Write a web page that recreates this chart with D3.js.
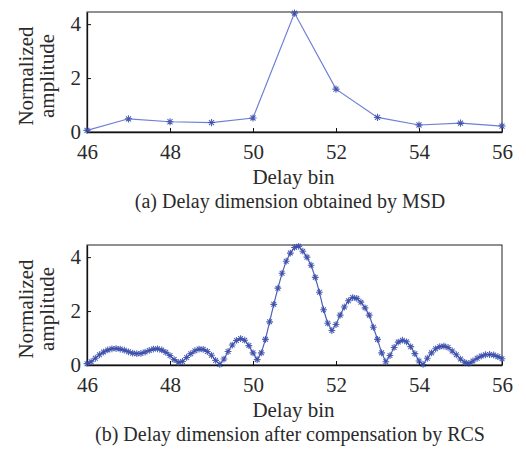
<!DOCTYPE html>
<html><head><meta charset="utf-8">
<script src="https://cdn.jsdelivr.net/npm/d3@7"></script>
<style>body{margin:0;background:#fff}svg{display:block}
svg text{font-family:"Liberation Serif","DejaVu Serif","Times New Roman",serif;}</style>
</head><body><svg id="c" width="526" height="449"></svg>
<script>
const xTicks = [46, 48, 50, 52, 54, 56];
const yTicks = [0, 2, 4];
const msdBins = [46, 47, 48, 49, 50, 51, 52, 53, 54, 55, 56];
const msdValues = [0.06, 0.49, 0.38, 0.35, 0.52, 4.41, 1.59, 0.54, 0.26, 0.33, 0.22];
const rcsBins = [46.0,46.1,46.2,46.3,46.4,46.5,46.6,46.7,46.8,46.9,
 47.0,47.1,47.2,47.3,47.4,47.5,47.6,47.7,47.8,47.9,
 48.0,48.1,48.2,48.3,48.4,48.5,48.6,48.7,48.8,48.9,
 49.0,49.1,49.2,49.3,49.4,49.5,49.6,49.7,49.8,49.9,
 50.0,50.1,50.2,50.3,50.4,50.5,50.6,50.7,50.8,50.9,
 51.0,51.1,51.2,51.3,51.4,51.5,51.6,51.7,51.8,51.9,
 52.0,52.1,52.2,52.3,52.4,52.5,52.6,52.7,52.8,52.9,
 53.0,53.1,53.2,53.3,53.4,53.5,53.6,53.7,53.8,53.9,
 54.0,54.1,54.2,54.3,54.4,54.5,54.6,54.7,54.8,54.9,
 55.0,55.1,55.2,55.3,55.4,55.5,55.6,55.7,55.8,55.9,56.0];
const rcsValues = [0.05,0.12,0.25,0.38,0.48,0.56,0.60,0.61,0.59,0.55,
 0.49,0.44,0.42,0.43,0.48,0.54,0.59,0.60,0.56,0.47,
 0.35,0.20,0.10,0.13,0.28,0.42,0.53,0.59,0.58,0.50,
 0.36,0.17,0.02,0.22,0.50,0.74,0.91,0.98,0.92,0.72,
 0.45,0.20,0.45,0.95,1.60,2.25,2.85,3.40,3.85,4.15,
 4.36,4.40,4.22,4.00,3.70,3.25,2.70,2.05,1.55,1.28,
 1.50,1.85,2.15,2.38,2.50,2.47,2.33,2.12,1.85,1.40,
 0.95,0.45,0.12,0.35,0.65,0.85,0.92,0.86,0.68,0.42,
 0.15,0.02,0.25,0.45,0.60,0.68,0.70,0.65,0.52,0.38,
 0.22,0.10,0.06,0.15,0.25,0.33,0.38,0.39,0.37,0.31,0.23];
const captions = ["(a) Delay dimension obtained by MSD", "(b) Delay dimension after compensation by RCS"];

const svg = d3.select("#c");
const TXT = "#2a2a2a";
const LINE = "#6e7fd4";
const MARK = "#3448a8";

function panel(top, bins, vals, caption, msize, lineColor) {
  const L = 87, R = 502, T = top, B = top + 120;
  const x = d3.scaleLinear().domain([46, 56]).range([L, R]);
  const y = d3.scaleLinear().domain([0, 4.45]).range([B, T]);
  const g = svg.append("g");
  g.append("rect").attr("x", L).attr("y", T).attr("width", R - L).attr("height", B - T)
    .attr("fill", "none").attr("stroke", "#222").attr("stroke-width", 1);
  const xa = g.append("g").attr("transform", `translate(0,${B})`)
    .call(d3.axisBottom(x).tickValues(xTicks).tickFormat(d3.format("d")).tickSizeInner(-4).tickSizeOuter(0).tickPadding(12));
  const ya = g.append("g").attr("transform", `translate(${L},0)`)
    .call(d3.axisLeft(y).tickValues(yTicks).tickFormat(d3.format("d")).tickSizeInner(-4).tickSizeOuter(0).tickPadding(6));
  [xa, ya].forEach(a => {
    a.select(".domain").attr("stroke", "#111").attr("stroke-width", 1.3);
    a.selectAll(".tick line").attr("stroke", "#111");
    a.selectAll("text").attr("font-family", null).attr("font-size", 21).attr("fill", TXT);
  });
  xa.selectAll("text").attr("dy", "0.71em");
  ya.selectAll("text").attr("dy", "0.3em");
  const pts = bins.map((b, i) => [b, vals[i]]);
  g.append("path").datum(pts)
    .attr("d", d3.line().x(d => x(d[0])).y(d => y(d[1])))
    .attr("fill", "none").attr("stroke", lineColor).attr("stroke-width", 1.2);
  const s = msize;
  const star = `M${-s},0L${s},0M0,${-s}L0,${s}M${-s*0.7},${-s*0.7}L${s*0.7},${s*0.7}M${-s*0.7},${s*0.7}L${s*0.7},${-s*0.7}`;
  g.selectAll("path.m").data(pts).join("path").attr("class", "m")
    .attr("transform", d => `translate(${x(d[0])},${y(d[1])})`)
    .attr("d", star).attr("stroke", MARK).attr("stroke-width", 1.1).attr("fill", "none")
    .attr("stroke-opacity", 0.85);
  g.append("text").attr("x", (L + R) / 2 - 1).attr("y", B + 52).attr("text-anchor", "middle")
    .attr("font-size", 21).attr("fill", TXT).text("Delay bin");
  const yc = (T + B) / 2 + 4;
  g.append("text").attr("transform", `translate(33,${yc}) rotate(-90)`).attr("text-anchor", "middle")
    .attr("font-size", 21).attr("fill", TXT).text("Normalized");
  g.append("text").attr("transform", `translate(54,${yc}) rotate(-90)`).attr("text-anchor", "middle")
    .attr("font-size", 21).attr("fill", TXT).text("amplitude");
  g.append("text").attr("x", 290).attr("y", B + 76).attr("text-anchor", "middle")
    .attr("font-size", 20).attr("fill", TXT).text(caption);
}
panel(12, msdBins, msdValues, captions[0], 3.6, LINE);
panel(245, rcsBins, rcsValues, captions[1], 3.4, "#4d60b8");
</script></body></html>
